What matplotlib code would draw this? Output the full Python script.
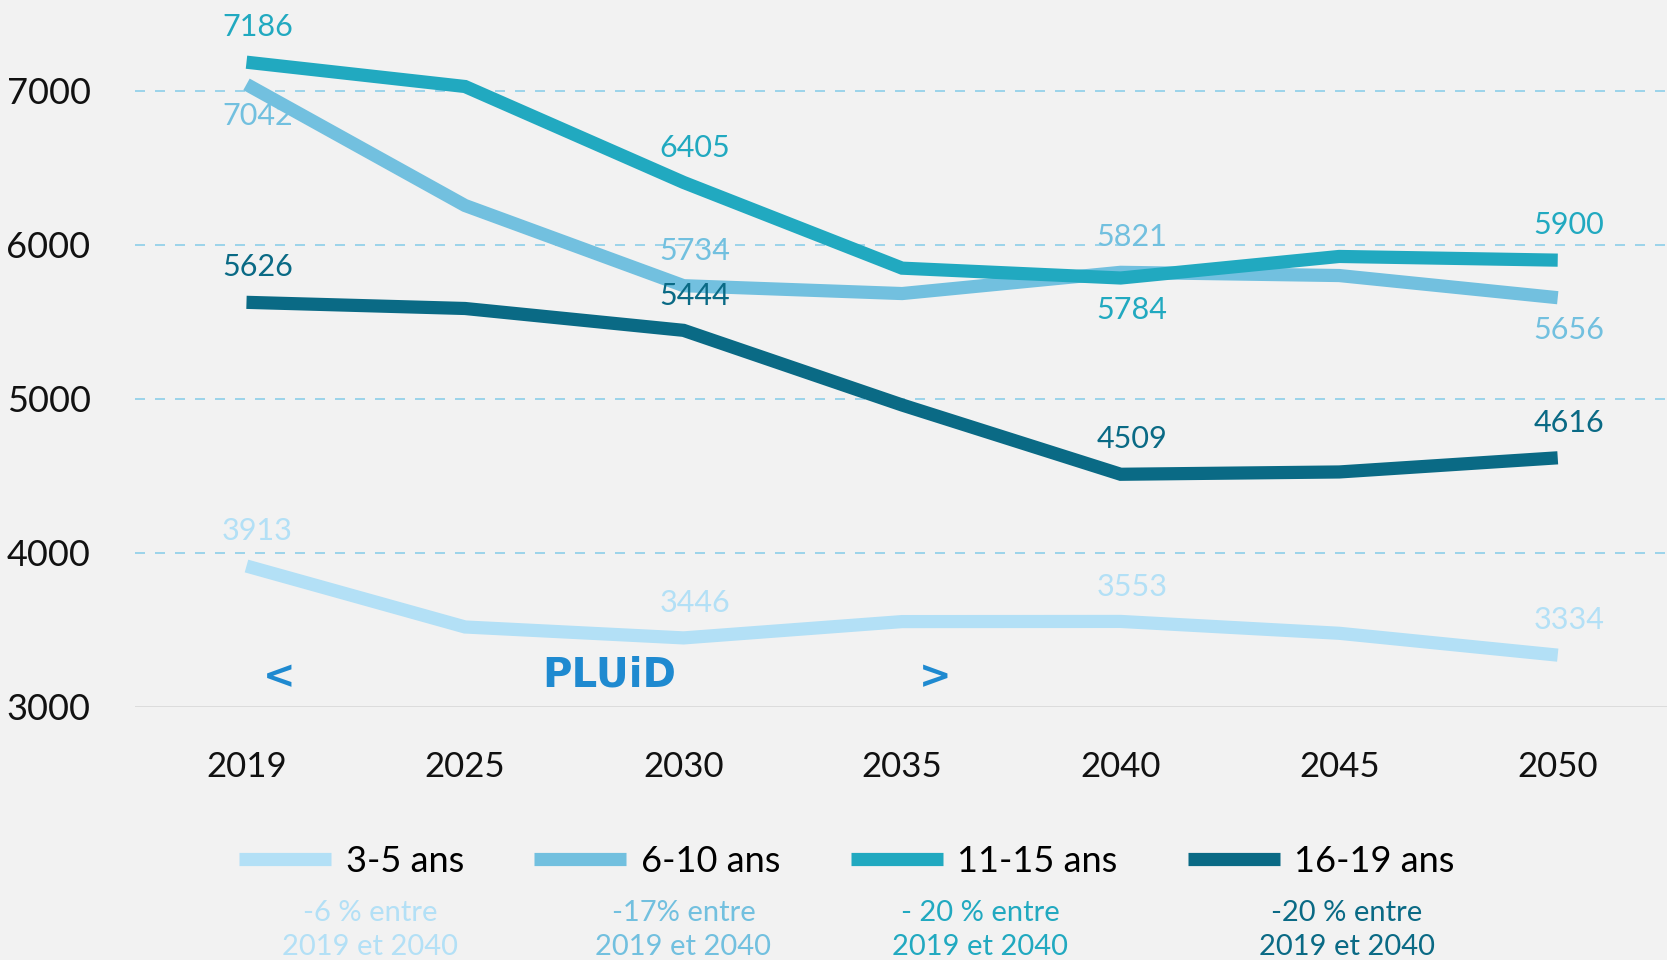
import matplotlib
matplotlib.use("Agg")
import matplotlib.pyplot as plt
from matplotlib.lines import Line2D

plt.rcParams['font.family'] = ['Lato', 'DejaVu Sans']

years = ['2019', '2025', '2030', '2035', '2040', '2045', '2050']
series_names = ['3-5 ans', '6-10 ans', '11-15 ans', '16-19 ans']
ans_3_5 = [3913, 3517, 3446, 3552, 3553, 3476, 3334]
ans_6_10 = [7042, 6255, 5734, 5683, 5821, 5800, 5656]
ans_11_15 = [7186, 7028, 6405, 5848, 5784, 5924, 5900]
ans_16_19 = [5626, 5586, 5444, 4959, 4509, 4524, 4616]
notes = ['-6 % entre\n2019 et 2040', '-17% entre\n2019 et 2040',
         '- 20 % entre\n2019 et 2040', '-20 % entre\n2019 et 2040']
yticks = [3000, 4000, 5000, 6000, 7000]

colors = ['#b3e0f6', '#72c0df', '#21a9c0', '#0a6a85']
all_series = [ans_3_5, ans_6_10, ans_11_15, ans_16_19]

# which points get a label, and whether above or below the line
labelled = [0, 2, 4, 6]
below = {(1, 0), (2, 4), (1, 6)}

bg = '#f2f2f2'
fig = plt.figure(figsize=(16.67, 9.6), dpi=100, facecolor=bg)
ax = fig.add_axes([0.081, 0.264, 0.919, 0.736], facecolor=bg)

x = list(range(len(years)))
for i, vals in enumerate(all_series):
    z = 4 if i == 2 else 3
    ax.plot(x, vals, color=colors[i], lw=9.5, solid_capstyle='butt',
            solid_joinstyle='miter', zorder=z)
    for j in labelled:
        if (i, j) in below:
            ax.annotate(str(vals[j]), (j, vals[j]), xytext=(8, -13),
                        textcoords='offset points', ha='center', va='top',
                        fontsize=22, color=colors[i])
        else:
            ax.annotate(str(vals[j]), (j, vals[j]), xytext=(8, 15),
                        textcoords='offset points', ha='center', va='bottom',
                        fontsize=22, color=colors[i])

for yv in yticks[1:]:
    ax.axhline(yv, color='#8ccfe9', lw=1.2, ls=(0, (6, 6)), zorder=1)
ax.axhline(3000, color='#dadada', lw=2, zorder=1)

ax.set_xlim(-0.51, 6.5)
ax.set_ylim(3000, 7590)
ax.set_xticks(x)
ax.set_xticklabels(years)
ax.set_yticks(yticks)
ax.tick_params(axis='x', length=0, pad=32, labelsize=25, labelcolor='#111111')
ax.tick_params(axis='y', length=0, pad=32, labelsize=26, labelcolor='#111111')
for s in ax.spines.values():
    s.set_visible(False)

ax.text(0.15, 3190, '<', color='#1f8ad0', fontsize=28, fontweight='bold',
        ha='center', va='center', family='DejaVu Sans')
ax.text(1.66, 3200, 'PLUiD', color='#1f8ad0', fontsize=29, fontweight='bold',
        ha='center', va='center', family='DejaVu Sans')
ax.text(3.15, 3190, '>', color='#1f8ad0', fontsize=28, fontweight='bold',
        ha='center', va='center', family='DejaVu Sans')

handles = [Line2D([], [], color=c, lw=9.5, solid_capstyle='butt') for c in colors]
fig.legend(handles, series_names, loc='center', bbox_to_anchor=(0.508, 0.103),
           ncol=4, frameon=False, fontsize=26, handlelength=2.55,
           handletextpad=0.4, columnspacing=1.95)

note_x = [0.222, 0.410, 0.588, 0.808]
for i, t in enumerate(notes):
    fig.text(note_x[i], 0.031, t, color=colors[i], fontsize=21,
             ha='center', va='center', linespacing=1.4)

fig.savefig('out.png', dpi=100, facecolor=bg)
